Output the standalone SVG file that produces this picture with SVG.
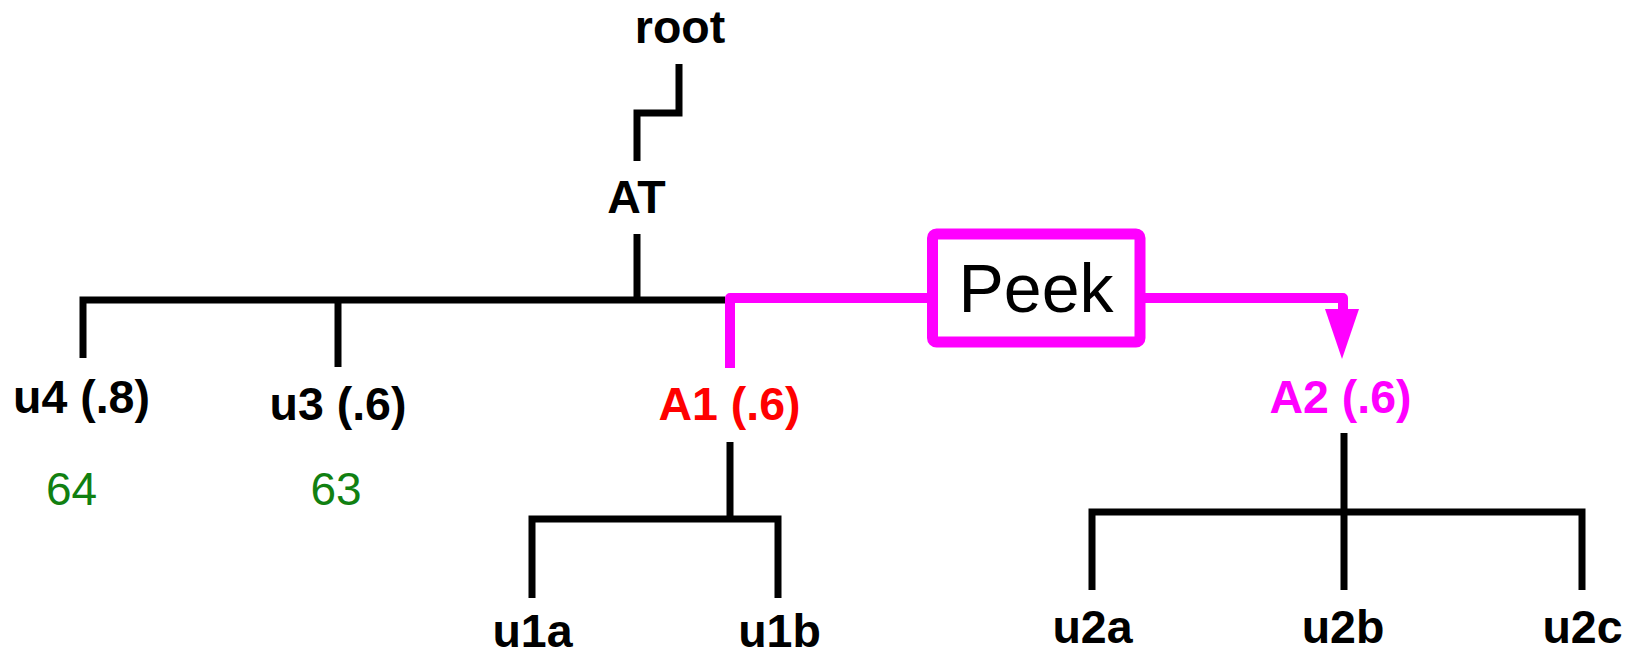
<svg xmlns="http://www.w3.org/2000/svg" width="1625" height="656" viewBox="0 0 1625 656">
<style>
.lbl{font-family:"Liberation Sans",Arial,sans-serif;font-weight:bold;font-size:46.5px;text-anchor:middle}
.num{font-family:"Liberation Sans",Arial,sans-serif;font-size:46px;text-anchor:middle;fill:#118011}
.blk{fill:none;stroke:#000;stroke-width:7;stroke-linejoin:miter}
.mag{fill:none;stroke:#ff00ff;stroke-width:10;stroke-linejoin:round}
</style>
<rect width="1625" height="656" fill="#fff"/>
<g id="connectors">
<polyline class="blk" points="679,64 679,113 637,113 637,161"/>
<line class="blk" x1="637" y1="234" x2="637" y2="300"/>
<polyline class="blk" points="83,358 83,300 725,300"/>
<line class="blk" x1="338" y1="300" x2="338" y2="367"/>
<polyline class="blk" points="532,598 532,519 778,519 778,598"/>
<line class="blk" x1="730" y1="442" x2="730" y2="519"/>
<polyline class="blk" points="1092,590 1092,512 1582,512 1582,590"/>
<line class="blk" x1="1344" y1="433" x2="1344" y2="590"/>
<polyline class="mag" points="730,368 730,298 932,298"/>
<polyline class="mag" points="1140,298 1343,298 1343,309"/>
<polygon points="1325,309 1359,309 1342,359" fill="#ff00ff"/>
</g>
<g id="root"><text class="lbl" x="680" y="43">root</text></g>
<g id="AT"><text class="lbl" x="636.5" y="213">AT</text></g>
<g id="u4"><text class="lbl" x="81.5" y="413">u4 (.8)</text><text class="num" x="71.5" y="505">64</text></g>
<g id="u3"><text class="lbl" x="338" y="420">u3 (.6)</text><text class="num" x="336" y="505">63</text></g>
<g id="A1"><text class="lbl" x="729.5" y="420" fill="#ff0000">A1 (.6)</text></g>
<g id="A2"><text class="lbl" x="1340.5" y="413" fill="#ff00ff">A2 (.6)</text></g>
<g id="peek">
<rect x="932.5" y="234" width="207.5" height="108" rx="4" fill="#fff" stroke="#ff00ff" stroke-width="11"/>
<text x="1036" y="312" font-family="'Liberation Sans',Arial,sans-serif" font-size="68" text-anchor="middle">Peek</text>
</g>
<g id="u1a"><text class="lbl" x="532.5" y="647">u1a</text></g>
<g id="u1b"><text class="lbl" x="779.5" y="647">u1b</text></g>
<g id="u2a"><text class="lbl" x="1092.5" y="643">u2a</text></g>
<g id="u2b"><text class="lbl" x="1343" y="643">u2b</text></g>
<g id="u2c"><text class="lbl" x="1582.5" y="643">u2c</text></g>
</svg>
